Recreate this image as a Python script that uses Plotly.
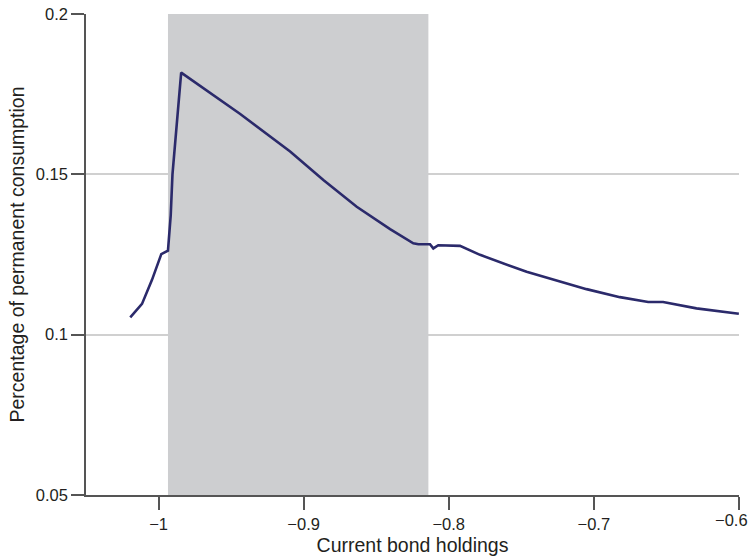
import plotly.graph_objects as go

# Data
bond_holdings = [-1.0195, -1.0114, -1.0045, -0.9981, -0.9935, -0.9916, -0.9904, -0.9844,
                 -0.9437, -0.9093, -0.8864, -0.8634, -0.8404, -0.8244, -0.8209, -0.8129,
                 -0.8106, -0.8072, -0.7922, -0.7784, -0.7463, -0.7211, -0.7050, -0.6820,
                 -0.6625, -0.6522, -0.6292, -0.6000]
pct_consumption = [0.1054, 0.1096, 0.1171, 0.1251, 0.1262, 0.1373, 0.1500, 0.1817,
                   0.1688, 0.1571, 0.1482, 0.1399, 0.1329, 0.1285, 0.1282, 0.1282,
                   0.1269, 0.1279, 0.1277, 0.1249, 0.1196, 0.1162, 0.1142, 0.1117,
                   0.1102, 0.1102, 0.1082, 0.1065]
shade_range = [-0.9935, -0.814]
x_ticks = [-1.0, -0.9, -0.8, -0.7, -0.6]
x_tick_text = ["\u22121", "\u22120.9", "\u22120.8", "\u22120.7", "\u22120.6"]
y_ticks = [0.05, 0.1, 0.15, 0.2]
y_tick_text = ["0.05", "0.1", "0.15", "0.2"]

FONT = "Liberation Sans, Arial, sans-serif"
TXT = "#231f20"
AX = "#555555"

fig = go.Figure()
fig.add_trace(go.Scatter(
    x=bond_holdings, y=pct_consumption, mode="lines",
    line=dict(color="#2b2a6b", width=2.6), showlegend=False, hoverinfo="skip"))

fig.add_shape(type="rect", xref="x", yref="y",
              x0=shade_range[0], x1=shade_range[1], y0=0.05, y1=0.2,
              fillcolor="#cdced0", line=dict(width=0), layer="between")

# the last x tick label sits at the paper edge; draw it as an annotation so it stays visible
shown_text = x_tick_text[:-1] + [""]
fig.add_annotation(x=x_ticks[-1], xref="x", y=0, yref="paper",
                   text=x_tick_text[-1], showarrow=False,
                   xanchor="right", yanchor="top", yshift=-14, xshift=11,
                   font=dict(size=16.5, color=TXT, family=FONT))

fig.update_layout(
    width=752, height=559,
    margin=dict(l=86, r=13, t=14, b=64, autoexpand=False),
    paper_bgcolor="white", plot_bgcolor="white",
    font=dict(family=FONT, color=TXT, size=16.5),
    showlegend=False,
)
fig.update_xaxes(
    range=[-1.05, -0.5999], tickvals=x_ticks, ticktext=shown_text,
    showgrid=False, zeroline=False, showline=True, linecolor=AX, linewidth=1.5,
    ticks="outside", ticklen=13, tickwidth=1.5, tickcolor=AX,
    tickfont=dict(size=16.5, color=TXT),
    title=dict(text="Current bond holdings", font=dict(size=19.5, color=TXT), standoff=7),
    automargin=False,
)
fig.update_yaxes(
    range=[0.05, 0.2], tickvals=y_ticks, ticktext=y_tick_text,
    showgrid=True, gridcolor="#d0d0d0", gridwidth=1.5,
    zeroline=False, showline=True, linecolor=AX, linewidth=1.5,
    ticks="outside", ticklen=13, tickwidth=1.5, tickcolor=AX,
    tickfont=dict(size=16.5, color=TXT),
    title=dict(text="Percentage of permanent consumption", font=dict(size=19.5, color=TXT), standoff=6),
    automargin=False,
)

fig.write_html("out.html")
